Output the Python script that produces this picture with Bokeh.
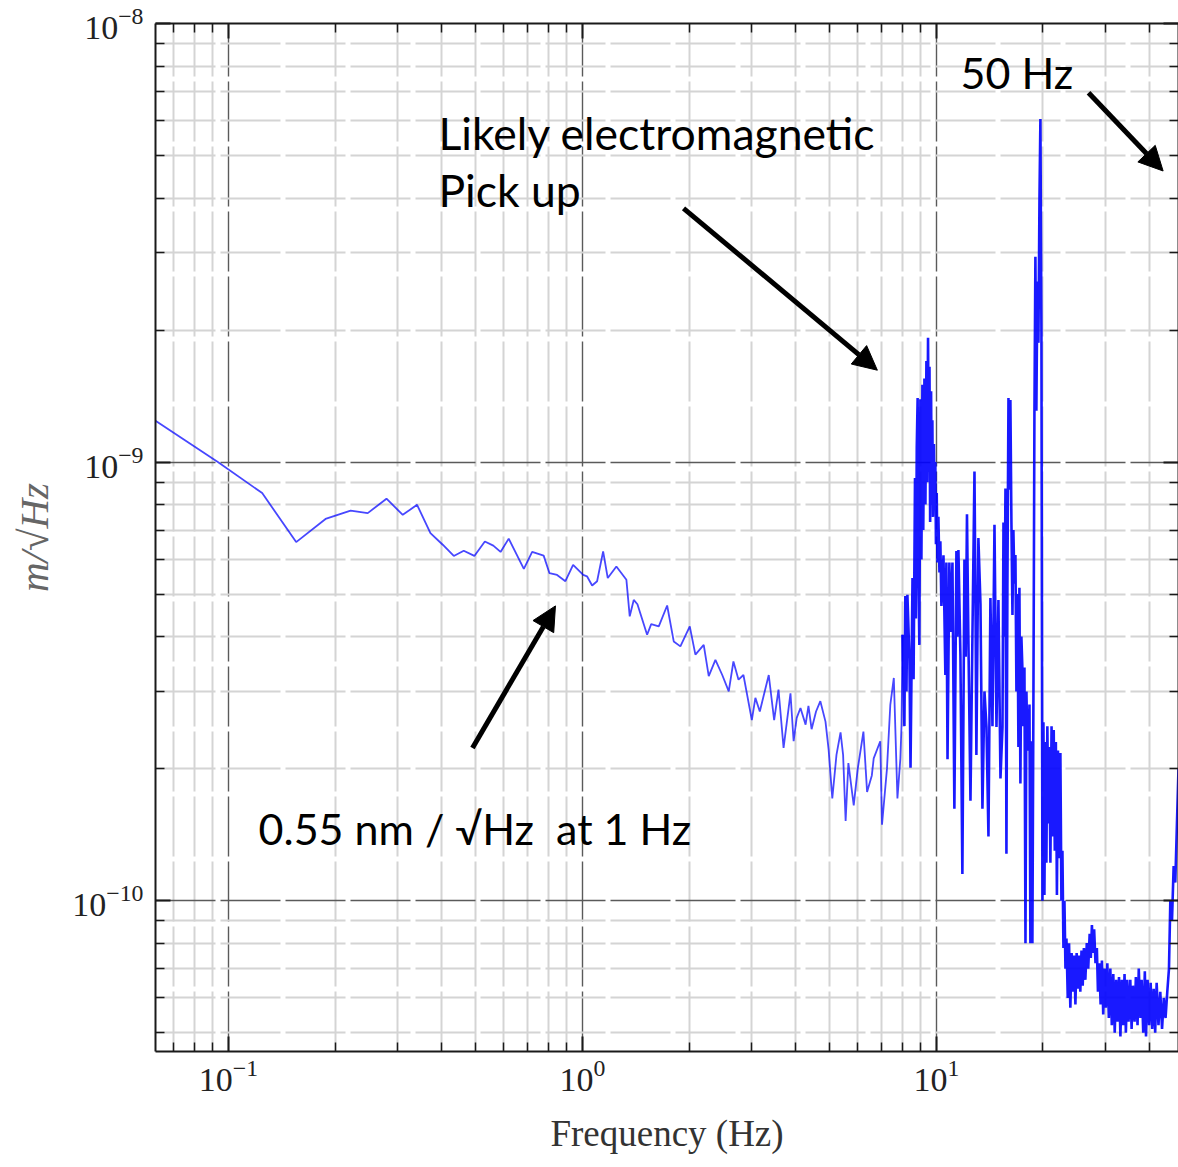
from bokeh.plotting import figure
from bokeh.models import (FixedTicker, LogAxis, Arrow, NormalHead, ColumnDataSource, Range1d)
from bokeh.core.properties import value
from bokeh.embed import file_html
from bokeh.resources import INLINE

# ---------------- data ----------------
# amplitude spectral density in nm/sqrt(Hz)
freq_low = [0.0622, 0.0933, 0.1245, 0.1553, 0.188, 0.2213, 0.2474, 0.2795, 0.3107, 0.341,
            0.372, 0.403, 0.433, 0.462, 0.495, 0.530, 0.560, 0.587, 0.619, 0.683,
            0.721, 0.777, 0.807, 0.848, 0.895, 0.941, 1.005, 1.03, 1.065, 1.10,
            1.144, 1.179, 1.247, 1.331, 1.36, 1.396, 1.43, 1.523, 1.564, 1.643,
            1.735, 1.811, 1.891, 2.01, 2.085, 2.201, 2.274, 2.375, 2.483, 2.59,
            2.67, 2.76, 2.85, 3.01, 3.08, 3.17, 3.36, 3.48, 3.58, 3.70,
            3.87, 3.95, 4.03, 4.13, 4.27, 4.35, 4.44, 4.57, 4.70, 4.86,
            4.96, 5.08, 5.22, 5.36, 5.45, 5.54, 5.64, 5.84, 5.99, 6.22,
            6.37, 6.57, 6.65, 6.94, 7.02, 7.25, 7.41, 7.58, 7.76, 7.91, 7.97]
asd_low = [1.242, 1.000, 0.850, 0.657, 0.742, 0.775, 0.765, 0.825, 0.758, 0.799,
           0.689, 0.648, 0.611, 0.628, 0.611, 0.659, 0.645, 0.624, 0.669, 0.571,
           0.624, 0.612, 0.558, 0.553, 0.535, 0.583, 0.553, 0.549, 0.523, 0.535,
           0.626, 0.544, 0.578, 0.539, 0.445, 0.485, 0.474, 0.404, 0.427, 0.422,
           0.471, 0.390, 0.380, 0.422, 0.364, 0.383, 0.325, 0.354, 0.327, 0.300,
           0.351, 0.319, 0.327, 0.258, 0.290, 0.270, 0.327, 0.258, 0.303, 0.223,
           0.297, 0.231, 0.261, 0.275, 0.252, 0.278, 0.246, 0.270, 0.285, 0.256,
           0.221, 0.171, 0.215, 0.242, 0.215, 0.152, 0.206, 0.165, 0.199, 0.243,
           0.177, 0.193, 0.211, 0.231, 0.149, 0.200, 0.280, 0.322, 0.171, 0.211, 0.252]

freq_mid = [8.02, 8.12, 8.17, 8.23, 8.28, 8.39, 8.45, 8.56, 8.62, 8.70,
            8.75, 8.80, 8.85, 8.90, 8.95, 9.01, 9.07, 9.13, 9.18, 9.25,
            9.31, 9.37, 9.42, 9.47, 9.52, 9.56, 9.60, 9.66, 9.70, 9.74,
            9.78, 9.84, 9.88, 9.93, 9.97, 10.02, 10.07, 10.13, 10.20, 10.26,
            10.33, 10.40, 10.47, 10.60, 10.67, 10.75, 10.88, 10.95, 11.10, 11.24,
            11.39, 11.46, 11.54, 11.69, 11.84, 12.00, 12.10, 12.20, 12.31, 12.48,
            12.64, 12.81, 12.90, 12.97, 13.14, 13.32, 13.49, 13.67, 13.85, 14.03,
            14.21, 14.40, 14.59, 14.78, 14.97, 15.17, 15.37, 15.47, 15.57, 15.67,
            15.77, 15.87, 15.98, 16.08, 16.18, 16.29, 16.40, 16.50, 16.61, 16.72,
            16.83, 16.94, 17.05, 17.16, 17.27, 17.38, 17.50, 17.61, 17.73, 17.85,
            17.96, 18.08, 18.20, 18.32, 18.43, 18.55, 18.67, 18.80, 18.92, 19.04,
            19.16, 19.29, 19.42, 19.55, 19.67, 19.80, 19.93, 20.06, 20.19, 20.32,
            20.45, 20.58, 20.72, 20.85]
asd_mid = [0.404, 0.250, 0.495, 0.300, 0.498, 0.357, 0.201, 0.544, 0.320, 0.920,
           0.440, 1.080, 1.400, 0.550, 0.383, 1.390, 0.600, 1.500, 0.700, 1.550,
           0.800, 1.700, 0.900, 1.920, 0.950, 1.650, 0.730, 1.450, 0.800, 1.245,
           0.750, 1.100, 0.780, 1.000, 0.650, 0.850, 0.590, 0.750, 0.560, 0.660,
           0.470, 0.525, 0.613, 0.327, 0.590, 0.210, 0.590, 0.410, 0.590, 0.162,
           0.627, 0.400, 0.630, 0.363, 0.115, 0.600, 0.360, 0.760, 0.400, 0.169,
           0.400, 0.952, 0.448, 0.215, 0.671, 0.474, 0.162, 0.300, 0.249, 0.140,
           0.490, 0.250, 0.720, 0.249, 0.485, 0.190, 0.249, 0.728, 0.400, 0.870,
           0.128, 0.520, 1.400, 0.865, 1.386, 0.728, 0.448, 0.700, 0.528, 0.614,
           0.300, 0.500, 0.224, 0.517, 0.185, 0.400, 0.336, 0.250, 0.340, 0.080,
           0.300, 0.220, 0.230, 0.280, 0.080, 0.231, 0.080, 0.300, 1.300, 2.940,
           1.310, 2.580, 1.870, 4.000, 6.060, 2.000, 0.100, 0.255, 0.103, 0.230,
           0.122, 0.250, 0.150, 0.224]

freq_high = [20.99, 21.15, 21.30, 21.45, 21.60, 21.75, 21.90, 22.05, 22.20, 22.40,
             22.55, 22.70, 22.85, 23.00, 23.15, 23.30, 23.50, 23.70, 23.90, 24.10,
             24.30, 24.50, 24.70, 24.90, 25.10, 25.30, 25.50, 25.70, 25.90, 26.10,
             26.35, 26.60, 26.85, 27.10, 27.30, 27.50, 27.70, 27.90, 28.15, 28.40,
             28.60, 28.85, 29.10, 29.35, 29.60, 29.85, 30.10, 30.40, 30.70, 31.00,
             31.30, 31.60, 31.90, 32.20, 32.50, 32.80, 33.10, 33.40, 33.70, 34.00,
             34.30, 34.60, 34.90, 35.30, 35.60, 35.90, 36.30, 36.60, 37.00, 37.30,
             37.70, 38.00, 38.40, 38.80, 39.10, 39.50, 39.90, 40.30, 40.70, 41.10,
             41.50, 41.90, 42.40, 42.90, 43.40, 43.90, 44.40, 44.90, 45.40, 45.80,
             46.30, 46.80, 47.30, 48.30]
asd_high = [0.122, 0.250, 0.140, 0.245, 0.130, 0.230, 0.103, 0.220, 0.125, 0.217,
            0.100, 0.130, 0.078, 0.100, 0.070, 0.082, 0.060, 0.080, 0.057, 0.076,
            0.062, 0.075, 0.058, 0.076, 0.063, 0.075, 0.062, 0.077, 0.064, 0.078,
            0.066, 0.080, 0.070, 0.084, 0.074, 0.088, 0.076, 0.086, 0.072, 0.078,
            0.062, 0.072, 0.058, 0.073, 0.055, 0.070, 0.057, 0.072, 0.054, 0.070,
            0.052, 0.068, 0.050, 0.066, 0.053, 0.067, 0.049, 0.066, 0.052, 0.068,
            0.050, 0.066, 0.053, 0.066, 0.051, 0.064, 0.053, 0.067, 0.052, 0.070,
            0.054, 0.066, 0.050, 0.069, 0.049, 0.066, 0.052, 0.065, 0.051, 0.063,
            0.050, 0.065, 0.052, 0.062, 0.051, 0.060, 0.054, 0.062, 0.070, 0.100,
            0.090, 0.120, 0.110, 0.200]

# ticks
x_major = [0.1, 1, 10]
x_minor = [0.07, 0.08, 0.09, 0.2, 0.3, 0.4, 0.5, 0.6, 0.7, 0.8, 0.9,
           2, 3, 4, 5, 6, 7, 8, 9, 20, 30, 40]
y_major = [1e-10, 1e-9, 1e-8]
y_minor = [5e-11, 6e-11, 7e-11, 8e-11, 9e-11,
           2e-10, 3e-10, 4e-10, 5e-10, 6e-10, 7e-10, 8e-10, 9e-10,
           2e-9, 3e-9, 4e-9, 5e-9, 6e-9, 7e-9, 8e-9, 9e-9]

# annotations
note_text = ["50 Hz", "Likely electromagnetic", "Pick up", "0.55 nm / \u221aHz \u00a0at 1 Hz"]
note_x = [11.7, 0.392, 0.392, 0.1216]
note_y = [7.72e-9, 5.63e-9, 4.18e-9, 1.46e-10]
note_size = ["43px", "44.5px", "44.5px", "43px"]
arrow_x0 = [26.9, 1.93, 0.489]
arrow_y0 = [6.95e-9, 3.79e-9, 2.23e-10]
arrow_x1 = [43.7, 6.81, 0.839]
arrow_y1 = [4.61e-9, 1.62e-9, 4.70e-10]

# ---------------- figure ----------------
p = figure(width=1178, height=1167, x_axis_type="log", y_axis_type="log",
           x_range=Range1d(0.0622, 48.3), y_range=Range1d(4.53e-11, 1e-8),
           output_backend="svg", toolbar_location=None,
           min_border_left=155, min_border_right=0, min_border_top=23,
           min_border_bottom=116)
p.outline_line_color = None
p.background_fill_color = "white"
p.border_fill_color = "white"

bottom_axis = p.below[0]
left_axis = p.left[0]
top_axis = LogAxis()
right_axis = LogAxis()
p.add_layout(top_axis, "above")
p.add_layout(right_axis, "right")

xt = FixedTicker(ticks=x_major, minor_ticks=x_minor)
yt = FixedTicker(ticks=y_major, minor_ticks=y_minor)
bottom_axis.ticker = xt
top_axis.ticker = xt
left_axis.ticker = yt
right_axis.ticker = yt
p.xgrid.ticker = xt
p.ygrid.ticker = yt

for ax in [bottom_axis, left_axis, top_axis, right_axis]:
    ax.axis_line_color = "#1a1a1a"
    ax.axis_line_width = 2
    ax.major_tick_in = 15
    ax.major_tick_out = 0
    ax.minor_tick_in = 9
    ax.minor_tick_out = 0
    ax.major_tick_line_color = "#1a1a1a"
    ax.major_tick_line_width = 2
    ax.minor_tick_line_color = "#1a1a1a"
    ax.minor_tick_line_width = 1.5
    ax.major_label_text_font = "Liberation Serif"
    ax.major_label_text_font_size = "34px"
    ax.major_label_text_color = "#222222"

for ax in [top_axis, right_axis]:
    ax.major_label_text_font_size = "1px"
    ax.major_label_text_alpha = 0
    ax.major_label_standoff = 0

bottom_axis.major_label_standoff = 8
left_axis.major_label_standoff = 12

bottom_axis.axis_label = "Frequency (Hz)"
bottom_axis.axis_label_text_font = "Liberation Serif"
bottom_axis.axis_label_text_font_style = "normal"
bottom_axis.axis_label_text_font_size = "37px"
bottom_axis.axis_label_text_color = "#333333"
bottom_axis.axis_label_standoff = 19

left_axis.axis_label = "m/\u221aHz"
left_axis.axis_label_text_font = "Liberation Serif"
left_axis.axis_label_text_font_style = "italic"
left_axis.axis_label_text_font_size = "41px"
left_axis.axis_label_text_color = "#666666"
left_axis.axis_label_standoff = 12

for g in [p.xgrid, p.ygrid]:
    g.grid_line_color = "#5a5a5a"
    g.grid_line_width = 1.4
    g.grid_line_dash = "60 5"
    g.minor_grid_line_color = "#d4d4d4"
    g.minor_grid_line_width = 2
    g.minor_grid_line_dash = "60 5"

# smooth low-frequency part drawn thin, dense resonance parts drawn heavier
low_src = ColumnDataSource(dict(f=freq_low + freq_mid[:1],
                                a=[v * 1e-9 for v in asd_low + asd_mid[:1]]))
dense_src = ColumnDataSource(dict(f=freq_mid + freq_high,
                                  a=[v * 1e-9 for v in asd_mid + asd_high]))
p.line(x="f", y="a", source=low_src, line_color="#0000ff", line_width=1.8, line_alpha=0.72)
p.line(x="f", y="a", source=dense_src, line_color="#0000ff", line_width=2.6, line_alpha=0.9)

note_src = ColumnDataSource(dict(x=note_x, y=note_y, t=note_text, s=note_size))
p.text(x="x", y="y", text="t", text_font_size="s", source=note_src,
       text_font=value("Lato"), text_color="black",
       text_baseline="alphabetic", text_align="left")

arr_src = ColumnDataSource(dict(x0=arrow_x0, y0=arrow_y0, x1=arrow_x1, y1=arrow_y1))
p.add_layout(Arrow(end=NormalHead(size=24, fill_color="black", line_color="black", line_width=1),
                   x_start="x0", y_start="y0", x_end="x1", y_end="y1",
                   line_width=5, line_color="black", source=arr_src))

open("out.html", "w").write(file_html(p, INLINE))
